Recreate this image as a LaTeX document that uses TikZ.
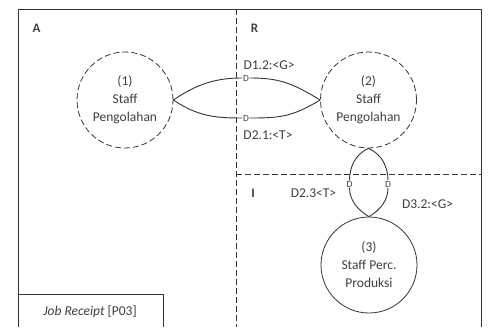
\documentclass[tikz,border=0pt]{standalone}
\usepackage{fontspec}
\setmainfont{Carlito}
\definecolor{ln}{HTML}{333333}
\definecolor{txt}{HTML}{3F3F3F}
\begin{document}
\begin{tikzpicture}[x=1pt,y=-1pt,
  every node/.style={text=txt, font=\fontsize{13.5}{18}\selectfont},
  frame/.style={draw=ln, line width=0.9pt},
  dsh/.style={draw=ln, line width=0.8pt, dash pattern=on 6pt off 3pt},
  proc/.style={circle, draw=ln, line width=0.8pt, minimum size=96pt, inner sep=0pt, align=center},
  conn/.style={draw=ln, line width=0.9pt},
  mk/.style={font=\fontsize{9.5}{10}\selectfont, inner sep=0.5pt},
  lane/.style={font=\fontsize{13}{15}\selectfont\bfseries}
]
\useasboundingbox (0,0) rectangle (489,327);
% frame and lanes
\draw[frame] (18,327) -- (18,9) -- (481,9) -- (481,327);
\draw[dsh] (236,9) -- (236,327);
\draw[dsh] (236,174) -- (481,174);
\draw[frame] (18,294) -- (163,294) -- (163,327);
\node (lA) at (36.5,28) [lane] {A};
\node (lR) at (254.5,28) [lane] {R};
\node (lI) at (253,193) [lane] {I};
\node (jr) at (90,312) {\textit{Job Receipt} [P03]};
% processes
\node[proc, dsh] (c1) at (125,100) {(1)\\Staff\\Pengolahan};
\node[proc, dsh] (c2) at (368.5,100) {(2)\\Staff\\Pengolahan};
\node[proc] (c3) at (369,265) {(3)\\Staff Perc.\\Produksi};
% markers
\node[mk] (m12) at (246,78) {D};
\node[mk] (m21) at (246,118) {D};
\node[mk] (m23) at (349.5,184) {D};
\node[mk] (m32) at (388,184) {D};
% connectors
\draw[conn] (c1.east) .. controls +(25,-17) and +(-25,0) .. (m12.west);
\draw[conn] (m12.east) .. controls +(30,0) and +(-28,-17) .. (c2.west);
\draw[conn] (c1.east) .. controls +(25,17) and +(-25,0) .. (m21.west);
\draw[conn] (m21.east) .. controls +(30,0) and +(-28,17) .. (c2.west);
\draw[conn] (c2.south) .. controls +(-14,6) and +(0,-12) .. (m23.north);
\draw[conn] (m23.south) .. controls +(0,12) and +(-12,-7) .. (c3.north);
\draw[conn] (c2.south) .. controls +(14,6) and +(0,-12) .. (m32.north);
\draw[conn] (m32.south) .. controls +(0,12) and +(12,-7) .. (c3.north);
% labels
\node (t12) at (269,65) {D1.2:<G>};
\node (t21) at (268,135) {D2.1:<T>};
\node (t23) at (313.5,193) {D2.3<T>};
\node (t32) at (427.5,204) {D3.2:<G>};
\end{tikzpicture}
\end{document}
